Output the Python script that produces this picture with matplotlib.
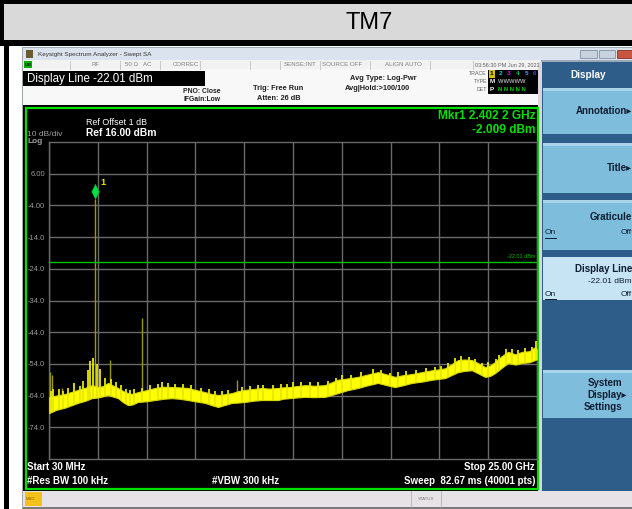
import numpy as np
import matplotlib
matplotlib.use('Agg')
import matplotlib.pyplot as plt
from matplotlib.patches import Rectangle

plt.rcParams['font.family'] = ['Liberation Sans', 'DejaVu Sans']

# ---------------- data ----------------
freq_ghz = [0.03, 0.4, 0.85, 1.2, 1.51, 1.9, 2.23, 2.54, 2.8, 3.05, 3.3, 3.56, 3.8, 4.07,
            4.3, 4.58, 5.0, 5.45, 5.9, 6.32, 6.7, 7.14, 7.6, 8.01, 8.35, 8.68, 9.0, 9.39,
            9.7, 10.06, 10.5, 10.93, 11.3, 11.75, 12.0, 12.36, 12.7, 13.13, 13.6, 14.15,
            14.5, 14.82, 15.3, 15.84, 16.3, 16.86, 17.3, 17.73, 18.1, 18.6, 19.1, 19.63,
            20.0, 20.29, 20.6, 20.96, 21.3, 21.67, 22.0, 22.34, 22.6, 22.85, 23.2, 23.52,
            23.9, 24.23, 24.6, 24.9, 25.0]
upper_dbm = [-64.5, -64.0, -63.5, -62.8, -62.2, -61.5, -60.7, -61.3, -61.0, -60.0, -60.8,
             -61.6, -62.5, -63.2, -63.5, -62.9, -62.3, -61.6, -61.2, -61.3, -61.4, -61.6,
             -62.3, -62.9, -63.5, -63.8, -63.6, -63.2, -62.6, -62.2, -61.9, -61.6, -61.8,
             -61.6, -61.4, -61.3, -61.0, -60.7, -60.9, -60.7, -59.8, -59.0, -58.6, -58.1,
             -57.4, -56.6, -57.3, -58.1, -57.6, -57.2, -56.6, -56.0, -55.7, -55.4, -54.2,
             -52.8, -52.6, -52.8, -53.8, -55.0, -54.5, -53.4, -51.5, -50.2, -51.0, -50.2,
             -50.0, -48.7, -49.5]
lower_dbm = [-69.5, -68.5, -67.8, -67.0, -66.3, -65.6, -64.8, -64.6, -64.2, -63.8, -64.3,
             -64.8, -66.0, -67.0, -66.8, -66.0, -65.8, -65.4, -65.0, -64.8, -65.0, -65.4,
             -65.9, -66.3, -67.0, -67.6, -67.0, -66.3, -66.2, -66.0, -65.6, -65.4, -65.4,
             -65.4, -65.0, -64.8, -64.6, -64.4, -64.5, -64.4, -63.8, -63.2, -62.3, -61.6,
             -60.8, -60.0, -60.7, -61.3, -60.8, -60.0, -59.6, -59.0, -58.7, -58.5, -57.6,
             -56.6, -56.2, -56.0, -57.0, -58.1, -57.8, -56.9, -55.2, -53.7, -54.2, -53.7,
             -53.5, -52.8, -52.5]
spike_ghz = [0.15, 0.25, 0.55, 0.75, 1.0, 1.3, 1.6, 1.75, 2.05, 2.15, 2.3, 2.48, 2.62, 2.9,
             3.2, 3.45, 3.7, 3.95, 4.2, 4.4, 4.8, 5.2, 5.6, 5.8, 6.1, 6.5, 6.9, 7.3, 7.8,
             8.2, 8.5, 8.9, 9.2, 9.9, 10.3, 10.7, 11.0, 11.5, 11.9, 12.2, 12.5, 12.9, 13.4,
             13.8, 14.3, 14.7, 15.0, 15.5, 16.0, 16.6, 17.0, 17.5, 17.9, 18.3, 18.8, 19.3,
             19.8, 20.1, 20.45, 20.8, 21.1, 21.5, 21.85, 22.2, 22.5, 22.9, 23.05, 23.4,
             23.7, 24.05, 24.4, 24.75, 24.95]
spike_top_dbm = [-62.5, -61.8, -62.0, -62.5, -61.5, -60.0, -61.0, -59.5, -56.0, -53.0, -52.2,
                 -54.0, -55.5, -58.5, -58.8, -59.8, -60.8, -61.9, -62.3, -61.8, -61.6, -60.8,
                 -60.4, -59.8, -60.0, -60.4, -60.3, -60.8, -61.5, -62.0, -62.4, -62.6, -62.2,
                 -61.4, -60.9, -60.8, -60.5, -60.6, -60.4, -60.2, -59.8, -59.8, -59.6, -59.7,
                 -59.3, -58.4, -57.6, -57.4, -56.5, -55.5, -55.8, -56.8, -56.6, -56.2, -56.0,
                 -55.4, -54.9, -54.6, -53.6, -52.0, -51.6, -51.7, -52.6, -53.6, -53.4, -52.3,
                 -51.2, -49.4, -49.4, -49.6, -49.0, -48.6, -46.8]
spur_ghz = [0.08, 0.18, 0.70, 2.4022, 3.15, 4.77, 9.63]
spur_top_dbm = [-56.6, -57.5, -61.6, -2.009, -52.8, -39.5, -59.0]
marker_ghz = 2.4022
marker_dbm = -2.009
display_line_dbm = -22.01
start_ghz, stop_ghz = 0.03, 25.0
ref_dbm = 16.0
db_per_div = 10
y_tick_values = [6, -4, -14, -24, -34, -44, -54, -64, -74]
y_tick_labels = ['6.00', '-4.00', '-14.0', '-24.0', '-34.0', '-44.0', '-54.0', '-64.0', '-74.0']

# ---------------- figure ----------------
W, H = 632, 509
fig = plt.figure(figsize=(W / 100, H / 100), dpi=100)
fig.patch.set_facecolor('white')
bg = fig.add_axes([0, 0, 1, 1])
bg.set_xlim(0, W)
bg.set_ylim(H, 0)
bg.axis('off')


def rect(x0, y0, x1, y1, fc, ec='none', lw=0, z=1):
    bg.add_patch(Rectangle((x0, y0), x1 - x0, y1 - y0, facecolor=fc, edgecolor=ec,
                           linewidth=lw, zorder=z))


def txt(x, y, s, size=6, color='black', ha='left', weight='normal', **kw):
    bg.text(x, y, s, fontsize=size, color=color, ha=ha, va='center', fontweight=weight,
            zorder=10, **kw)


# Title band
rect(0, 0, W, 46, 'black')
rect(4, 4, W, 40, '#d9d9d9')
txt(345, 23, 'TM7', size=17)
rect(4, 40, 9, H, 'black')

# Window frame
rect(22, 47, W, H, '#9aa8b8')
rect(23, 48, W, 60, '#dbe4ee')
rect(26, 50, 33, 58, '#6b5a2a')
txt(38, 54, 'Keysight Spectrum Analyzer - Swept SA', size=4.6, color='#333333')
rect(580, 50, 597, 58, '#c8d2de', ec='#8090a0', lw=0.6)
rect(599, 50, 615, 58, '#c8d2de', ec='#8090a0', lw=0.6)
rect(617, 50, W, 58, '#c8553f', ec='#8a3020', lw=0.6)

# Status row
rect(23, 60, 541, 69, '#f2f2f2')
rect(24, 61, 32, 68, '#00b000')
txt(25, 64.5, 'LXI', size=3.2, color='black', weight='bold')
for xs in [70, 120, 160, 200, 250, 280, 320, 370, 430, 473]:
    bg.plot([xs, xs], [60.5, 68.5], color='#c0c0c0', lw=0.6, zorder=3)
txt(92, 64.5, 'RF', size=4.4, color='#808080')
txt(125, 64.5, '50 Ω   AC', size=4.4, color='#808080')
txt(173, 64.5, 'CORREC', size=4.4, color='#808080')
txt(284, 64.5, 'SENSE:INT', size=4.4, color='#808080')
txt(322, 64.5, 'SOURCE OFF', size=4.4, color='#808080')
txt(385, 64.5, 'ALIGN AUTO', size=4.4, color='#808080')
txt(475, 64.5, '03:56:30 PM Jun 29, 2021', size=4.0, color='#606060')

# Header area
rect(23, 69, 541, 106, '#f8f8f8')
rect(23, 71, 205, 86, 'black')
txt(27, 78.5, 'Display Line -22.01 dBm', size=8.3, color='white')
txt(183, 91, 'PNO: Close', size=4.9, weight='bold', color='#202020')
txt(183, 99, 'IFGain:Low', size=4.9, weight='bold', color='#202020')
txt(253, 88, 'Trig: Free Run', size=5.3, weight='bold', color='#202020')
txt(257, 98.5, 'Atten: 26 dB', size=5.3, weight='bold', color='#202020')
txt(350, 78, 'Avg Type: Log-Pwr', size=5.3, weight='bold', color='#202020')
txt(345, 88, 'Avg|Hold:>100/100', size=5.3, weight='bold', color='#202020')
txt(487, 73.5, 'TRACE', size=3.8, color='#606060', ha='right')
txt(487, 81.5, 'TYPE', size=3.8, color='#606060', ha='right')
txt(487, 89.5, 'DET', size=3.8, color='#606060', ha='right')
rect(488, 69.5, 541, 94, 'black')
rect(488.5, 69.8, 495, 77.5, '#d4c000')
trace_cols = ['black', '#00d0d0', '#e000e0', '#00c060', '#40a0ff', '#4040ff']
for i, c in enumerate(trace_cols):
    txt(490 + i * 8.6, 73.5, str(i + 1), size=4.6, color=c, weight='bold')
txt(489.5, 81.5, 'M', size=4.6, color='white', weight='bold')
txt(497.5, 81.5, 'WWWWW', size=4.2, color='#a0a0a0', weight='bold')
txt(489.5, 89.5, 'P', size=4.6, color='white', weight='bold')
txt(498, 89.5, 'N N N N N', size=4.2, color='#00d000', weight='bold')

# Display area
rect(23, 105, 541, 491, 'black')
rect(25.5, 107.5, 537.5, 489, 'none', ec='#00e000', lw=1.6, z=8)
rect(538, 62, 542, 491, '#d8d8d8')

txt(86, 122.5, 'Ref Offset 1 dB', size=6.4, color='white')
txt(86, 133, 'Ref 16.00 dBm', size=7.4, color='white', weight='bold')
txt(27, 134, '10 dB/div', size=6.0, color='#a0a0a0')
txt(27, 141.5, 'Log', size=6.0, color='#a0a0a0', weight='bold')
txt(536, 116, 'Mkr1 2.402 2 GHz', size=8.6, color='#00e000', ha='right', weight='bold')
txt(536, 130, '-2.009 dBm', size=8.6, color='#00e000', ha='right', weight='bold')
txt(27, 467, 'Start 30 MHz', size=7.0, color='white', weight='bold')
txt(27, 481, '#Res BW 100 kHz', size=7.0, color='white', weight='bold')
txt(212, 481, '#VBW 300 kHz', size=7.0, color='white', weight='bold')
txt(535, 467, 'Stop 25.00 GHz', size=7.0, color='white', ha='right', weight='bold')
txt(536, 481, 'Sweep  82.67 ms (40001 pts)', size=7.0, color='white', ha='right', weight='bold')

# Message bar
rect(23, 491, W, 507, '#e6e2e6')
rect(23, 507, W, H, '#7a7a7a')
rect(25, 492, 42, 506, '#f2c21a')
txt(26, 499, 'MSG', size=3.0, color='#806000')
bg.plot([411, 411], [491, 507], color='#b0b0b0', lw=0.6, zorder=3)
bg.plot([441, 441], [491, 507], color='#b0b0b0', lw=0.6, zorder=3)
txt(426, 499, 'STATUS', size=3.2, color='#808080', ha='center')

# Softkey panel
rect(542, 62, W, 491, '#2e5d8a')
txt(588, 74.5, 'Display', size=7.2, color='white', weight='bold', ha='center')
key_col = '#7fbddc'
rect(543, 88, W, 134, key_col)
rect(543, 143, W, 193, key_col)
rect(543, 200, W, 250, key_col)
rect(543, 257, W, 300, '#c6e4f4')
rect(543, 370, W, 418, key_col)
for y0 in [88, 143, 200, 370]:
    rect(543, y0, W, y0 + 3, '#a8d4ea')
kc = '#0f1e33'
txt(632, 111, 'Annotation▸', size=7.0, color=kc, ha='right', weight='bold')
txt(632, 168, 'Title▸', size=7.0, color=kc, ha='right', weight='bold')
txt(632, 217, 'Graticule', size=7.0, color=kc, ha='right', weight='bold')
txt(545, 233, 'On', size=6.0, color=kc)
bg.plot([545, 556], [237.5, 237.5], color=kc, lw=0.7, zorder=10)
txt(632, 233, 'Off', size=6.0, color=kc, ha='right')
txt(632, 269, 'Display Line', size=7.0, color=kc, ha='right', weight='bold')
txt(632, 281.5, '-22.01 dBm', size=6.0, color=kc, ha='right')
txt(545, 294, 'On', size=6.0, color=kc)
bg.plot([545, 556], [298.5, 298.5], color=kc, lw=0.7, zorder=10)
txt(632, 294, 'Off', size=6.0, color=kc, ha='right')
txt(605, 383, 'System', size=7.0, color=kc, ha='center', weight='bold')
txt(607, 395, 'Display▸', size=7.0, color=kc, ha='center', weight='bold')
txt(603, 407, 'Settings', size=7.0, color=kc, ha='center', weight='bold')

# ---------------- main graticule axes ----------------
x0, x1, y_top, y_bot = 49, 537, 142, 459
ax = fig.add_axes([x0 / W, (H - y_bot) / H, (x1 - x0) / W, (y_bot - y_top) / H])
ax.set_facecolor('black')
ax.set_xlim(start_ghz, stop_ghz)
bottom_dbm = ref_dbm - 10 * db_per_div
ax.set_ylim(bottom_dbm, ref_dbm)
ax.set_xticks(np.linspace(start_ghz, stop_ghz, 11))
ax.set_xticklabels([])
ax.set_yticks(y_tick_values)
ax.set_yticklabels(y_tick_labels)
ax.tick_params(axis='both', length=0)
ax.tick_params(axis='y', labelsize=5.4, labelcolor='#9a9a9a', pad=3)
ax.grid(True, color='#6a6a6a', lw=1.0)
for sp in ax.spines.values():
    sp.set_color('#6a6a6a')
    sp.set_linewidth(1.0)

# spurs (thin, dim)
spur_base = np.interp(spur_ghz, freq_ghz, lower_dbm)
ax.vlines(spur_ghz, spur_base, spur_top_dbm, color='#9a9a00', lw=1.0, zorder=2)
# noise band
ax.fill_between(freq_ghz, lower_dbm, upper_dbm, color='#ffff00', edgecolor='#d8d800',
                lw=0.8, zorder=3)
spike_base = np.interp(spike_ghz, freq_ghz, lower_dbm)
ax.vlines(spike_ghz, spike_base, spike_top_dbm, color='#e8e800', lw=1.3, zorder=3)

# display line
ax.axhline(display_line_dbm, color='#00c000', lw=1.0, zorder=4)
ax.text(stop_ghz - 0.1, display_line_dbm + 1.2, '-22.01 dBm', fontsize=4.0,
        color='#00c000', ha='right', va='bottom', zorder=5)

# marker
diamond = [(0, 0), (0.5, 1), (0, 2), (-0.5, 1)]
ax.plot([marker_ghz], [marker_dbm], marker=diamond, markersize=22, color='#00e040',
        markeredgecolor='#00a030', markeredgewidth=0.4, zorder=6, clip_on=False)
ax.annotate('1', (marker_ghz, marker_dbm), xytext=(3.5, 10), textcoords='offset points',
            fontsize=6.5, color='#e8e800', fontweight='bold', zorder=6)

fig.savefig('out.png', dpi=100, facecolor=fig.get_facecolor())
